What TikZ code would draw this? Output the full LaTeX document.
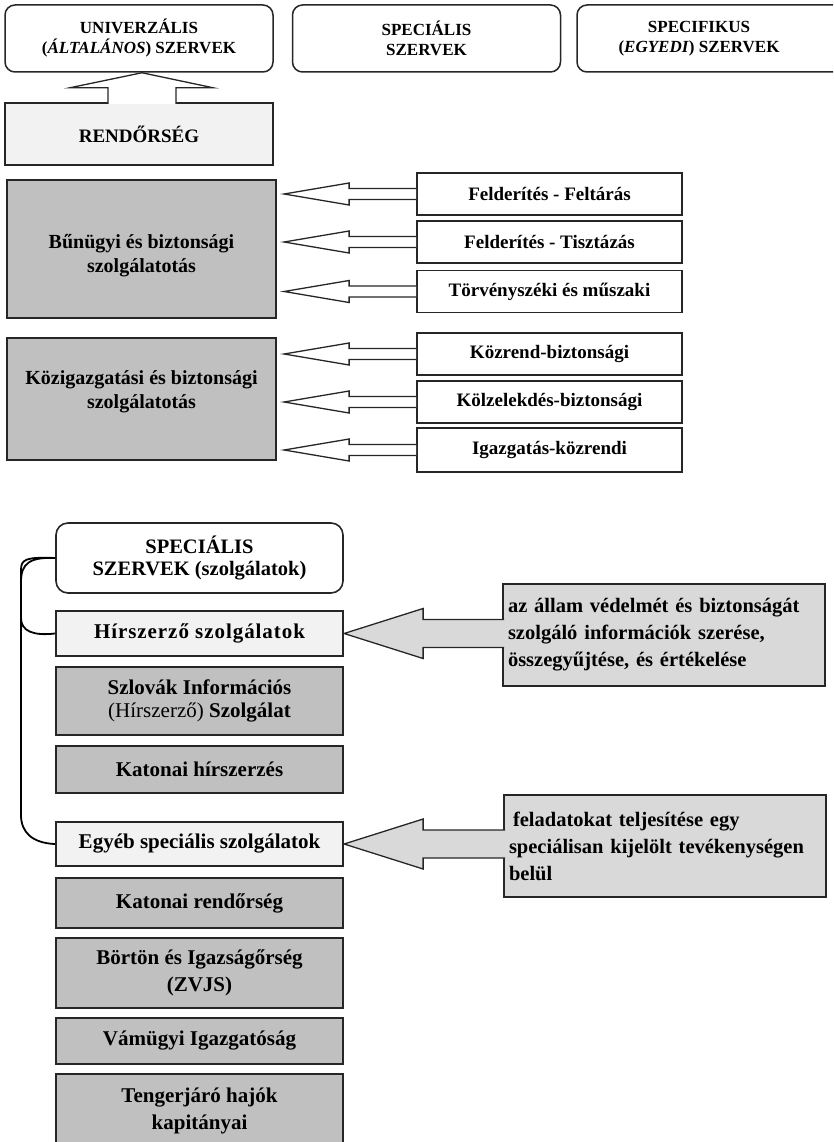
\documentclass[tikz,border=0pt]{standalone}
\usepackage{fontspec}
\setmainfont{Liberation Serif}
\usetikzlibrary{calc}

\definecolor{boxgray}{HTML}{C0C0C0}
\definecolor{boxlight}{HTML}{F2F2F2}
\definecolor{callgray}{HTML}{D9D9D9}
\definecolor{edge}{HTML}{262626}

% text of a box, moved by dx and dy without changing the box
\newcommand{\placetext}[3]{\hspace*{#1}\raisebox{#2}[\height][\depth]{\begin{tabular}{@{}c@{}}#3\end{tabular}}\hspace*{-1\dimexpr#1\relax}}

% white block arrow from a branch box to the service box
\newcommand{\leftblock}[2]{%
  \draw[blockarrow] let \p1=(#1.west), \p2=(#2.east) in
    (\x1,\y1+5.5pt) -- (\x1-67pt,\y1+5.5pt) -- (\x1-67pt,\y1+11pt) -- (\x2+7pt,\y1)
    -- (\x1-67pt,\y1-11pt) -- (\x1-67pt,\y1-5.5pt) -- (\x1,\y1-5.5pt);}

% grey callout arrow from a note to a box
\newcommand{\callarrow}[2]{%
  \draw[callarrow] let \p1=(#1.west), \p2=(#2.east) in
    (\x1+2pt,\y2+14pt) -- (\x2+79pt,\y2+14pt) -- (\x2+79pt,\y2+25pt) -- (\x2,\y2)
    -- (\x2+79pt,\y2-25pt) -- (\x2+79pt,\y2-14pt) -- (\x1+2pt,\y2-14pt);}

\tikzset{
  organ/.style={draw=edge, line width=1.5pt, rounded corners=10pt, fill=white,
    minimum width=268pt, minimum height=67pt, align=center,
    font=\bfseries\fontsize{17}{20}\selectfont},
  police/.style={draw=edge, line width=2pt, fill=boxlight, minimum width=268pt,
    minimum height=62pt, font=\bfseries\fontsize{19}{22}\selectfont},
  service/.style={draw=edge, line width=2.2pt, fill=boxgray, minimum width=269pt,
    font=\bfseries\fontsize{20}{24}\selectfont},
  branch/.style={draw=edge, line width=1.8pt, fill=white, minimum width=265pt,
    minimum height=42pt, font=\bfseries\fontsize{19}{22}\selectfont},
  unit/.style={draw=edge, line width=2.2pt, fill=boxgray, minimum width=287pt,
    align=center, font=\bfseries\fontsize{21}{23}\selectfont},
  unitlight/.style={unit, fill=boxlight},
  callbox/.style={draw=edge, line width=2pt, fill=callgray, text width=312pt,
    inner xsep=5pt, minimum height=102pt, align=left,
    font=\bfseries\fontsize{20.5}{27}\selectfont},
  blockarrow/.style={draw=edge, line width=1.3pt, fill=white, line join=miter},
  callarrow/.style={blockarrow, fill=callgray},
  bracketline/.style={draw=black, line width=1.8pt},
}

\begin{document}
\begin{tikzpicture}[x=1pt, y=-1pt]
\useasboundingbox (0,0) rectangle (833,1142);
\clip (0,0) rectangle (833,1142);

% upper part
\node[organ] (univ) at (139,38.5) {UNIVERZÁLIS\\(\textit{ÁLTALÁNOS}) SZERVEK};
\node[organ] (spec) at (426.5,38.5) {SPECIÁLIS\\SZERVEK};
\node[organ] (specif) at (711,38.5) {\placetext{-12pt}{0pt}{SPECIFIKUS\\(\textit{EGYEDI}) SZERVEK}};

\node[police] (rend) at (139,134) {RENDŐRSÉG};

\node[service, minimum height=138pt] (bun) at (141.5,249)
  {\placetext{0pt}{-7pt}{Bűnügyi és biztonsági\\szolgálatotás}};
\node[service, minimum height=122pt] (kozig) at (141.5,399)
  {\placetext{0pt}{7pt}{Közigazgatási és biztonsági\\szolgálatotás}};

\node[branch] (felt) at (549.5,194) {Felderítés - Feltárás};
\node[branch] (tisz) at (549.5,242) {Felderítés - Tisztázás};
\node[branch] (torv) at (549.5,291.5) {Törvényszéki és műszaki};
\node[branch] (kozr) at (549.5,354) {Közrend-biztonsági};
\node[branch] (kozl) at (549.5,402) {Kölzelekdés-biztonsági};
\node[branch, minimum height=44pt] (igaz) at (549.5,450) {Igazgatás-közrendi};

\draw[blockarrow] let \p1=(rend.north), \p2=(univ.south) in
  (\x1-31pt,\y1-2pt) -- (\x1-31pt,\y2-15pt) -- (\x1-69pt,\y2-15pt) -- (\x1+3pt,\y2)
  -- (\x1+74pt,\y2-15pt) -- (\x1+37pt,\y2-15pt) -- (\x1+37pt,\y1-2pt);

\leftblock{felt}{bun}
\leftblock{tisz}{bun}
\leftblock{torv}{bun}
\leftblock{kozr}{kozig}
\leftblock{kozl}{kozig}
\leftblock{igaz}{kozig}

% lower part
\node[unit, fill=white, rounded corners=12pt, line width=1.6pt, minimum height=70pt,
  font=\bfseries\fontsize{20.5}{22}\selectfont] (specsz) at (199.5,558)
  {SPECIÁLIS\\SZERVEK (szolgálatok)};
\node[unitlight, minimum height=45pt] (hirsz) at (199.5,633.5)
  {\addfontfeature{LetterSpace=4.5}Hírszerző szolgálatok};
\node[unit, minimum height=68pt] (szlov) at (199.5,701)
  {Szlovák Információs\\{\mdseries(Hírszerző)} Szolgálat};
\node[unit, minimum height=47pt] (kathir) at (199.5,769.5) {Katonai hírszerzés};
\node[unitlight, minimum height=44pt] (egyeb) at (199.5,844) {Egyéb speciális szolgálatok};
\node[unit, minimum height=50pt] (katrend) at (199.5,903) {Katonai rendőrség};
\node[unit, minimum height=70pt] (bortan) at (199.5,973) {Börtön és Igazságőrség\\[4pt](ZVJS)};
\node[unit, minimum height=46pt] (vam) at (199.5,1041) {Vámügyi Igazgatóság};
\node[unit, minimum height=74pt] (teng) at (199.5,1111) {Tengerjáró hajók\\[4pt]kapitányai};

\node[callbox] (callhir) at (664,635)
  {az állam védelmét és biztonságát\\szolgáló információk szerése,\\összegyűjtése, és értékelése};
\node[callbox] (callegy) at (665,846)
  {\hspace*{4pt}feladatokat teljesítése egy\\speciálisan kijelölt tevékenységen\\belül};

\callarrow{callhir}{hirsz}
\callarrow{callegy}{egyeb}

\draw[bracketline] (specsz.west) .. controls (30,557) and (21,563) .. (21,582)
  -- (21,618) .. controls (21,631) and (33,636) .. (hirsz.west);
\draw[bracketline] (specsz.west) .. controls (26,557) and (21,559) .. (21,570)
  -- (21,815) .. controls (21,833) and (33,843) .. (egyeb.west);

\end{tikzpicture}
\end{document}
